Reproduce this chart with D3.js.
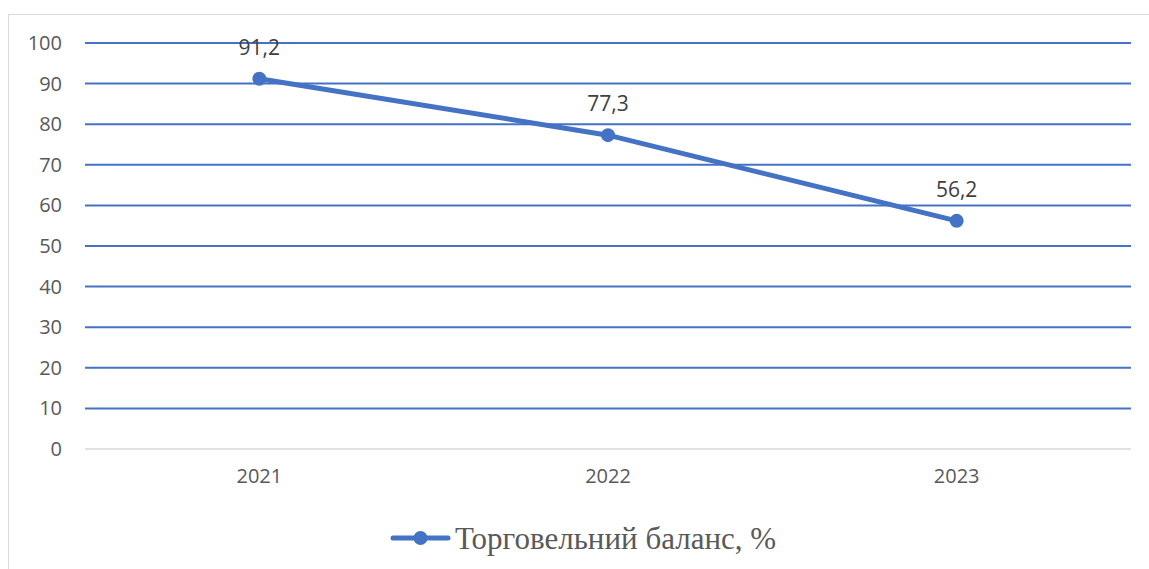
<!DOCTYPE html>
<html lang="en">
  <head>
    <meta charset="UTF-8" />
    <title>Торговельний баланс</title>
    <style>
      body { margin: 0; background: #fff; }
      .tick text { fill: #595959; font-family: "Open Sans", "Liberation Sans", sans-serif; font-size: 20px; }
    </style>
  </head>
  <body>
    <div id="wrapper"></div>
    <script src="https://d3js.org/d3.v7.min.js"></script>
    <script>
      const years = ["2021", "2022", "2023"];
      const balance = [91.2, 77.3, 56.2];
      const yTicks = [0, 10, 20, 30, 40, 50, 60, 70, 80, 90, 100];
      const seriesName = "Торговельний баланс, %";

      const W = 1149, H = 569;
      const margin = {top: 43, right: 18, bottom: 120, left: 85};
      const width = W - margin.left - margin.right,
            height = H - margin.top - margin.bottom;
      const blue = "#4472C4";

      const svg = d3.select("#wrapper").append("svg")
          .attr("width", W)
          .attr("height", H);

      // chart frame
      svg.append("path")
          .attr("d", "M8.5," + H + "V14.5H" + W)
          .attr("fill", "none")
          .attr("stroke", "#d9d9d9")
          .attr("stroke-width", 1);

      const g = svg.append("g")
          .attr("transform", "translate(" + margin.left + "," + margin.top + ")");

      const x = d3.scaleBand().domain(years).range([0, width]);
      const y = d3.scaleLinear().domain([0, 100]).range([height, 0]);

      // gridlines
      g.selectAll(".grid")
          .data(yTicks)
          .enter().append("line")
          .attr("x1", 0)
          .attr("x2", width)
          .attr("y1", d => y(d))
          .attr("y2", d => y(d))
          .attr("stroke", d => d === 0 ? "#d9d9d9" : blue)
          .attr("stroke-width", d => d === 0 ? 1.5 : 2);

      // y axis
      const yAxis = g.append("g")
          .call(d3.axisLeft(y).tickValues(yTicks).tickSize(0).tickPadding(23));
      yAxis.select(".domain").remove();

      // x axis
      const xAxis = g.append("g")
          .attr("transform", "translate(0," + height + ")")
          .call(d3.axisBottom(x).tickSize(0).tickPadding(20));
      xAxis.select(".domain").remove();

      const cx = d => x(d) + x.bandwidth() / 2;

      const line = d3.line()
          .x((d, i) => cx(years[i]))
          .y(d => y(d));

      g.append("path")
          .datum(balance)
          .attr("fill", "none")
          .attr("stroke", blue)
          .attr("stroke-width", 5)
          .attr("stroke-linecap", "round")
          .attr("d", line);

      g.selectAll(".dot")
          .data(balance)
          .enter().append("circle")
          .attr("cx", (d, i) => cx(years[i]))
          .attr("cy", d => y(d))
          .attr("r", 7)
          .attr("fill", blue);

      g.selectAll(".lbl")
          .data(balance)
          .enter().append("text")
          .attr("x", (d, i) => cx(years[i]))
          .attr("y", d => y(d) - 24)
          .attr("text-anchor", "middle")
          .attr("fill", "#404040")
          .style("font-family", "'Open Sans', 'Liberation Sans', sans-serif")
          .style("font-size", "21px")
          .text(d => String(d).replace(".", ","));

      // legend
      const leg = svg.append("g").attr("transform", "translate(393,538)");
      leg.append("line")
          .attr("x1", 0).attr("x2", 55)
          .attr("stroke", blue).attr("stroke-width", 5)
          .attr("stroke-linecap", "round");
      leg.append("circle").attr("cx", 27.5).attr("r", 7).attr("fill", blue);
      leg.append("text")
          .attr("x", 62)
          .attr("y", 11)
          .attr("fill", "#595959")
          .style("font-family", "'Liberation Serif', 'DejaVu Serif', serif")
          .style("font-size", "31px")
          .text(seriesName);
    </script>
  </body>
</html>
